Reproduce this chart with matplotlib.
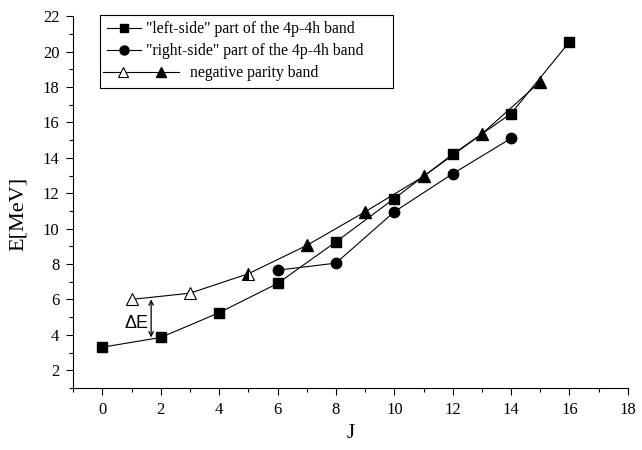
# Энергии уровней полос 4p-4h и полосы отрицательной чётности

import matplotlib.pyplot as plt
from matplotlib.lines import Line2D
from matplotlib.legend_handler import HandlerBase
from matplotlib.ticker import MultipleLocator

plt.rcParams['font.family'] = 'Liberation Serif'

# "левая" часть полосы 4p-4h
j_left = [0, 2, 4, 6, 8, 10, 12, 14, 16]
e_left = [3.3, 3.85, 5.25, 6.9, 9.25, 11.7, 14.2, 16.5, 20.55]

# "правая" часть полосы 4p-4h
j_right = [6, 8, 10, 12, 14]
e_right = [7.65, 8.05, 10.95, 13.1, 15.1]

# полоса отрицательной чётности
j_neg = [1, 3, 5, 7, 9, 11, 13, 15]
e_neg = [6.0, 6.35, 7.45, 9.05, 10.95, 12.95, 15.35, 18.3]
n_open = 2  # первые два уровня - открытые маркеры

# стрелка ΔE между J=1 (отриц. чётность) и J=2 (левая часть)
de_x = 1.67
de_top = e_neg[0]
de_bottom = e_left[1]

lw = 0.8


class TwoTriangles(HandlerBase):
    # значок легенды: открытый и закрашенный треугольники на одной линии
    def create_artists(self, legend, orig_handle, xdescent, ydescent,
                       width, height, fontsize, trans):
        y = height / 2 - ydescent
        x0 = -xdescent
        line = Line2D([x0 - 0.1 * width, x0 + 2.1 * width], [y, y],
                      color='black', lw=lw)
        t1 = Line2D([x0 + 0.46 * width], [y], marker='^', ms=7,
                    mfc='white', mec='black', mew=0.8, ls='none')
        t2 = Line2D([x0 + 1.57 * width], [y], marker='^', ms=7,
                    color='black', ls='none')
        for a in (line, t1, t2):
            a.set_transform(trans)
        return [line, t1, t2]


fig = plt.figure(figsize=(6.42, 4.5), dpi=100)
ax = fig.add_axes([0.114, 0.138, 0.864, 0.826])

ax.plot(j_left, e_left, color='black', lw=lw, marker='s', ms=7)
ax.plot(j_right, e_right, color='black', lw=lw, marker='o', ms=7.5)
ax.plot(j_neg, e_neg, color='black', lw=lw)
ax.plot(j_neg[:n_open], e_neg[:n_open], ls='none', marker='^', ms=8,
        mfc='white', mec='black', mew=0.8)
ax.plot(j_neg[n_open:n_open + 1], e_neg[n_open:n_open + 1], ls='none',
        marker='^', ms=8, fillstyle='left', mfc='black',
        markerfacecoloralt='white', mec='black', mew=0.8)
ax.plot(j_neg[n_open + 1:], e_neg[n_open + 1:], ls='none', marker='^',
        ms=8, color='black')

ax.annotate('', xy=(de_x, de_bottom), xytext=(de_x, de_top),
            arrowprops=dict(arrowstyle='<->', color='black', lw=0.9,
                            shrinkA=0, shrinkB=0, mutation_scale=8))
ax.text(de_x - 0.1, (de_top + de_bottom) / 2 - 0.3, 'ΔE',
        family='Liberation Sans', fontsize=13, ha='right', va='center')

ax.set_xlim(-1, 18)
ax.set_ylim(1, 22)
ax.xaxis.set_minor_locator(MultipleLocator(1))
ax.yaxis.set_minor_locator(MultipleLocator(1))
ax.set_xticks(range(0, 19, 2))
ax.set_yticks(range(2, 23, 2))
ax.tick_params(which='both', direction='out', width=0.8, labelsize=12)
ax.tick_params(which='major', length=5, pad=5)
ax.tick_params(which='minor', length=3)
for side in ('top', 'right'):
    ax.spines[side].set_visible(False)
for side in ('left', 'bottom'):
    ax.spines[side].set_linewidth(0.8)

ax.set_xlabel('J', fontsize=15)
ax.set_ylabel('E[MeV]', fontsize=16)
ax.xaxis.set_label_coords(0.5, -0.098)
ax.yaxis.set_label_coords(-0.081, 0.468)

h_left = Line2D([], [], color='black', lw=lw, marker='s', ms=6)
h_right = Line2D([], [], color='black', lw=lw, marker='o', ms=6.5)
h_neg = Line2D([], [], color='black', lw=lw)
leg = ax.legend([h_left, h_right, h_neg],
                ['"left-side" part of the 4p-4h band',
                 '"right-side" part of the 4p-4h band',
                 '           negative parity band'],
                handler_map={h_neg: TwoTriangles()},
                loc='upper left', bbox_to_anchor=(0.049, 0.8, 0.528, 0.203),
                mode='expand', borderaxespad=0, fancybox=False,
                framealpha=1, edgecolor='black', fontsize=11.3,
                handlelength=2.2, handletextpad=0.3, labelspacing=0.38,
                borderpad=0.4)
leg.get_frame().set_linewidth(0.8)

fig.savefig('out.png', dpi=100)
